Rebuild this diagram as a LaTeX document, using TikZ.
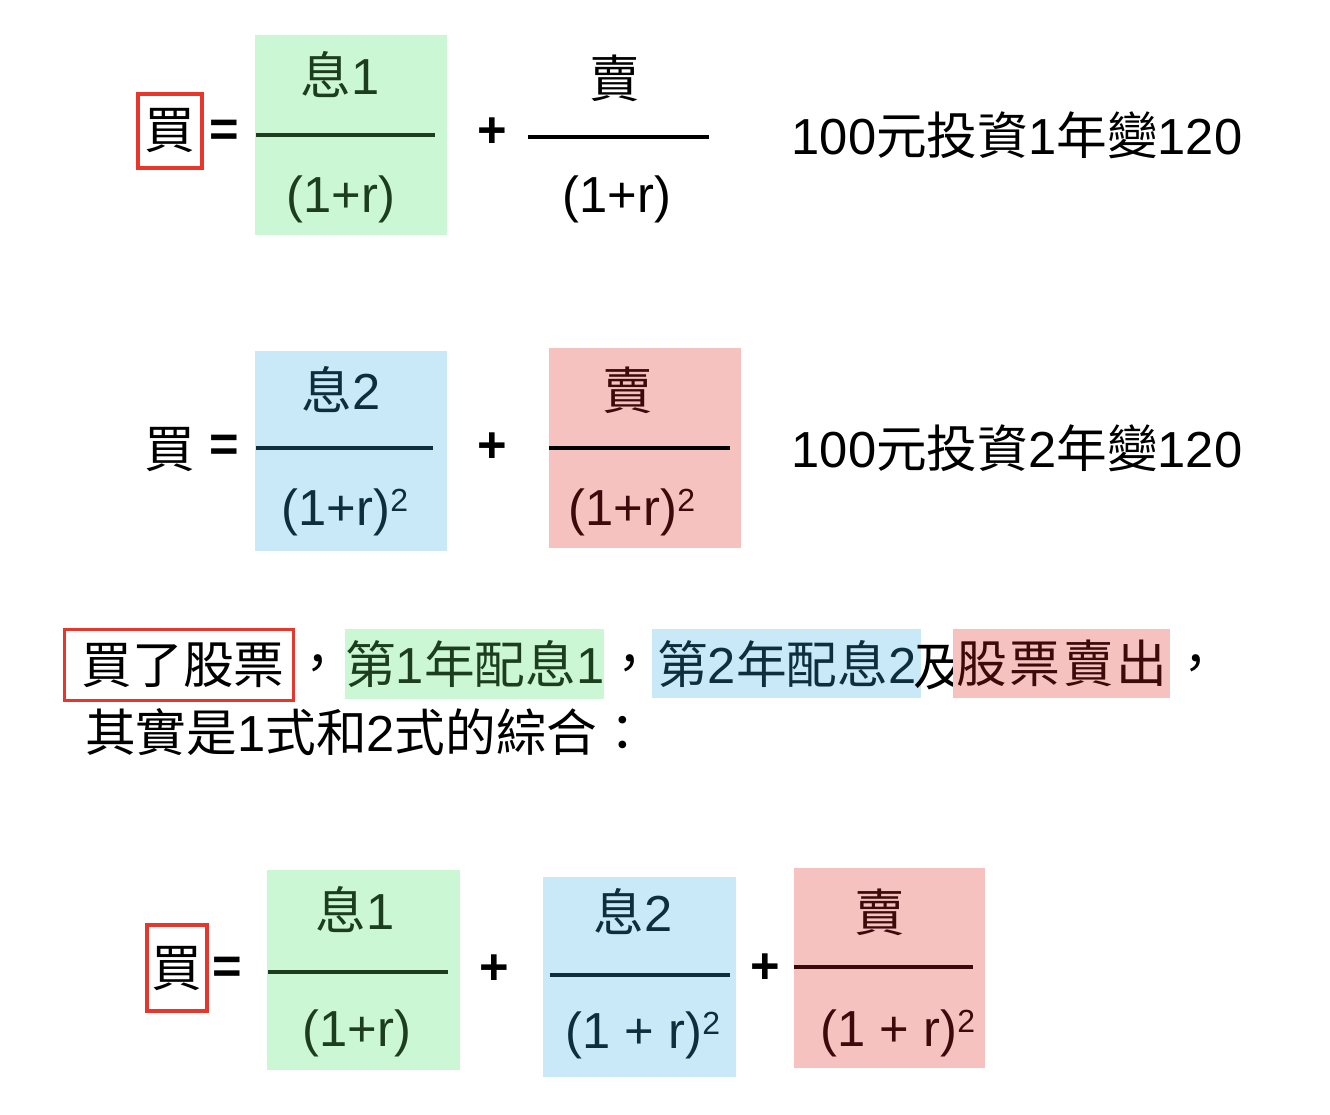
\documentclass[tikz,border=0pt]{standalone}
\usepackage{fontspec}
\setmainfont{Liberation Sans}
\newfontfamily\cjk{Noto Sans CJK TC}
\usetikzlibrary{positioning}
\definecolor{greenbg}{RGB}{204,247,212}
\definecolor{bluebg}{RGB}{201,233,248}
\definecolor{redbg}{RGB}{245,194,192}
\definecolor{greenfg}{RGB}{28,62,30}
\definecolor{bluefg}{RGB}{14,46,60}
\definecolor{redfg}{RGB}{60,10,10}
\definecolor{boxred}{RGB}{232,55,42}
\newcommand{\zh}[1]{{\cjk #1}}
\newcommand{\supsq}{\raisebox{10pt}{\fontsize{24}{24}\selectfont 2}}
\tikzstyle{big}=[font=\fontsize{38}{45}\selectfont, inner sep=0pt]
\tikzstyle{sym}=[font=\fontsize{38}{45}\selectfont\bfseries, inner sep=0pt]
\tikzstyle{buybox}=[big, draw=boxred, line width=2.3pt]
\tikzstyle{hl}=[big, anchor=north west]

\begin{document}
\begin{tikzpicture}[x=0.75pt,y=-0.75pt]
\useasboundingbox (0,0) rectangle (1330,1114);

%panels
  \foreach \a/\b/\c in {{(255,35)/(447,235)/greenbg}, {(255,351)/(447,551)/bluebg}, {(549,348)/(741,548)/redbg}, {(267,870)/(460,1070)/greenbg}, {(543,877)/(736,1077)/bluebg}, {(794,868)/(985,1068)/redbg}}
          \fill[\c] \a rectangle \b;

%fraction lines
  \foreach \a/\b/\c/\w in {{(256,135)/(435,135)/greenfg/2.3pt}, {(528,137)/(709,137)/black/2.8pt}, {(256,448)/(433,448)/bluefg/2.3pt}, {(549,448)/(730,448)/black/2.3pt}, {(268,972)/(448,972)/greenfg/2.5pt}, {(550,975)/(730,975)/bluefg/2.5pt}, {(794,967)/(973,967)/redfg/2.5pt}}
          \draw[line width=\w, \c] \a -- \b;

%first
\node[buybox, minimum width=48pt, minimum height=55.5pt] (buy1) at (170,131) {\zh{買}};
\node[sym] (eq1) at (224,133) {=};
\node[big, text=greenfg] (div1) at (340,75) {\zh{息}1};
\node[big, text=greenfg] (den1) at (341,199) {(1+r)};
\node[sym] (plus1) at (492,133) {+};
\node[big] (sell1) at (615,78) {\zh{賣}};
\node[big] (den1b) at (617,199) {(1+r)};
\node[big] (note1) at (1017,135) {100\zh{元投資}1\zh{年變}120};

%second
\node[big] (buy2) at (170,450) {\zh{買}};
\node[sym] (eq2) at (224,448) {=};
\node[big, text=bluefg] (div2) at (341,390) {\zh{息}2};
\node[big, text=bluefg] (den2) at (345,512) {(1+r)\supsq};
\node[sym] (plus2) at (492,448) {+};
\node[big, text=redfg] (sell2) at (628,390) {\zh{賣}};
\node[big, text=redfg] (den2b) at (632,512) {(1+r)\supsq};
\node[big] (note2) at (1017,448) {100\zh{元投資}2\zh{年變}120};

%sentence
\node[buybox, anchor=north west, minimum width=171.75pt, minimum height=53.25pt] (buy3) at (63,628) {\hspace{6pt}\zh{買了股票}};
\node[big, anchor=west] (c1) at (292,668) {\zh{，}};
\node[hl, fill=greenbg, text=greenfg, minimum width=194.25pt, minimum height=52.5pt] (year1) at (345,629) {\zh{第}1\zh{年配息}1};
\node[big, anchor=west] (c2) at (604,668) {\zh{，}};
\node[hl, fill=bluebg, text=bluefg, minimum width=201.75pt, minimum height=51.75pt] (year2) at (652,629) {\zh{第}2\zh{年配息}2\hspace{4pt}};
\node[big] (and) at (939,668) {\zh{及}};
\node[hl, fill=redbg, text=redfg, minimum width=162.75pt, minimum height=51.75pt] (sell3) at (953,629) {\zh{股\hspace{2pt}票\hspace{2pt}賣\hspace{2pt}出}};
\node[big, anchor=west] (c3) at (1170,668) {\zh{，}};
\node[big, anchor=west] (sum) at (85,732) {\zh{其實是}1\zh{式和}2\zh{式的綜合：}};

%third
\node[buybox, minimum width=45pt, minimum height=64.5pt] (buy4) at (177,968) {\zh{買}};
\node[sym] (eq4) at (227,970) {=};
\node[big, text=greenfg] (div4a) at (355,910) {\zh{息}1};
\node[big, text=greenfg] (den4a) at (357,1033) {(1+r)};
\node[sym] (plus4a) at (494,970) {+};
\node[big, text=bluefg] (div4b) at (633,912) {\zh{息}2};
\node[big, text=bluefg] (den4b) at (643,1035) {(1 + r)\supsq};
\node[sym] (plus4b) at (765,969) {+};
\node[big, text=redfg] (sell4) at (880,912) {\zh{賣}};
\node[big, text=redfg] (den4c) at (898,1033) {(1 + r)\supsq};

\end{tikzpicture}
\end{document}
